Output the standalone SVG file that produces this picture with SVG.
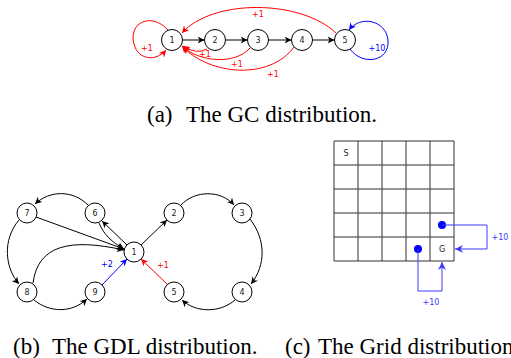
<svg xmlns="http://www.w3.org/2000/svg" width="511" height="358" viewBox="0 0 511 358">
<style>
.node circle{fill:#fff;stroke:#000;stroke-width:1}
.node text{font-family:"DejaVu Sans",sans-serif;font-size:8px;text-anchor:middle;fill:#222}
.e{fill:none;stroke:#000;stroke-width:1}
.r{stroke:#f00}
.b{stroke:#00f}
.gb{stroke:#3b3bff}
.lbl{font-family:"DejaVu Sans",sans-serif;font-size:8px;text-anchor:middle}
.cap{font-family:"Liberation Serif",serif;font-size:23px;fill:#000}
.grid line{stroke:#333;stroke-width:1}
</style>
<defs>
<marker id="ak" viewBox="0 0 10 10" refX="10" refY="5" markerWidth="7" markerHeight="7" orient="auto" markerUnits="userSpaceOnUse"><path d="M0,0 L10,5 L0,10 L3,5 z" fill="#000"/></marker>
<marker id="ar" viewBox="0 0 10 10" refX="10" refY="5" markerWidth="7" markerHeight="7" orient="auto" markerUnits="userSpaceOnUse"><path d="M0,0 L10,5 L0,10 L3,5 z" fill="#f00"/></marker>
<marker id="ab" viewBox="0 0 10 10" refX="10" refY="5" markerWidth="7" markerHeight="7" orient="auto" markerUnits="userSpaceOnUse"><path d="M0,0 L10,5 L0,10 L3,5 z" fill="#00f"/></marker>
<marker id="agb" viewBox="0 0 10 10" refX="10" refY="5" markerWidth="8" markerHeight="8" orient="auto" markerUnits="userSpaceOnUse"><path d="M0,0 L10,5 L0,10 L3,5 z" fill="#3b3bff"/></marker>
</defs>

<!-- (a) GC distribution -->
<g id="gc-connectors">
<path class="e" d="M182.5,40 H204.5" marker-end="url(#ak)"/>
<path class="e" d="M225.5,40 H247.5" marker-end="url(#ak)"/>
<path class="e" d="M268.5,40 H291.5" marker-end="url(#ak)"/>
<path class="e" d="M312.5,40 H334.5" marker-end="url(#ak)"/>
<path class="e r" d="M168,30 C152,12 128,22 134,44 C138,60 156,62 166,50" marker-end="url(#ar)"/>
<path class="e r" d="M336,33 C300,-1 212,-1 182,33" marker-end="url(#ar)"/>
<path class="e b" d="M350,49 C362,66 390,62 388,40 C386,20 360,15 349,30" marker-end="url(#ab)"/>
<path class="e r" d="M207,49 Q196,55 183,46" marker-end="url(#ar)"/>
<path class="e r" d="M250,48 C235,65 200,62 183,47" marker-end="url(#ar)"/>
<path class="e r" d="M294,47 C270,80 210,76 182,46" marker-end="url(#ar)"/>
<text class="lbl" x="147" y="51" fill="#f00">+1</text>
<text class="lbl" x="258" y="17" fill="#f00">+1</text>
<text class="lbl" x="205" y="57" fill="#f00">+1</text>
<text class="lbl" x="237" y="67" fill="#f00">+1</text>
<text class="lbl" x="273" y="77" fill="#f00">+1</text>
<text class="lbl" x="377" y="51" fill="#00f">+10</text>
</g>
<g id="gc1" class="node"><circle cx="172" cy="40" r="10.5"/><text x="172" y="43">1</text></g>
<g id="gc2" class="node"><circle cx="215" cy="40" r="10.5"/><text x="215" y="43">2</text></g>
<g id="gc3" class="node"><circle cx="258" cy="40" r="10.5"/><text x="258" y="43">3</text></g>
<g id="gc4" class="node"><circle cx="302" cy="40" r="10.5"/><text x="302" y="43">4</text></g>
<g id="gc5" class="node"><circle cx="345" cy="40" r="10.5"/><text x="345" y="43">5</text></g>

<!-- (b) GDL distribution -->
<g id="gdl-connectors">
<path class="e" d="M141,245 L167,220" marker-end="url(#ak)"/>
<path class="e" d="M181,205 C195,190 221,190 234,205" marker-end="url(#ak)"/>
<path class="e" d="M250,219 C266,240 266,265 251,284" marker-end="url(#ak)"/>
<path class="e" d="M235,300 C220,313 196,313 182,300" marker-end="url(#ak)"/>
<path class="e r" d="M167,284 L141,259" marker-end="url(#ar)"/>
<path class="e b" d="M102,285 L127,259" marker-end="url(#ab)"/>
<path class="e" d="M127,245 L102,221" marker-end="url(#ak)"/>
<path class="e" d="M99,223 C104,235 112,242 124,249" marker-end="url(#ak)"/>
<path class="e" d="M88,205 C73,190 50,190 35,204" marker-end="url(#ak)"/>
<path class="e" d="M36,217 L124,249" marker-end="url(#ak)"/>
<path class="e" d="M19,220 C2,240 5,268 19,284" marker-end="url(#ak)"/>
<path class="e" d="M33,283 C38,245 70,238 124,250" marker-end="url(#ak)"/>
<path class="e" d="M34,300 C50,313 72,313 87,299" marker-end="url(#ak)"/>
<text class="lbl" x="107" y="267" fill="#00f">+2</text>
<text class="lbl" x="163" y="268" fill="#f00">+1</text>
</g>
<g id="gdl1" class="node"><circle cx="134" cy="252" r="10"/><text x="134" y="255">1</text></g>
<g id="gdl2" class="node"><circle cx="174" cy="213" r="10"/><text x="174" y="216">2</text></g>
<g id="gdl3" class="node"><circle cx="242" cy="213" r="10"/><text x="242" y="216">3</text></g>
<g id="gdl4" class="node"><circle cx="242" cy="292" r="10"/><text x="242" y="295">4</text></g>
<g id="gdl5" class="node"><circle cx="174" cy="292" r="10"/><text x="174" y="295">5</text></g>
<g id="gdl6" class="node"><circle cx="95" cy="213" r="10"/><text x="95" y="216">6</text></g>
<g id="gdl7" class="node"><circle cx="27" cy="213" r="10"/><text x="27" y="216">7</text></g>
<g id="gdl8" class="node"><circle cx="27" cy="292" r="10"/><text x="27" y="295">8</text></g>
<g id="gdl9" class="node"><circle cx="95" cy="292" r="10"/><text x="95" y="295">9</text></g>

<!-- (c) Grid distribution -->
<g id="grid" class="grid">
<line x1="334" y1="141" x2="454" y2="141"/>
<line x1="334" y1="165" x2="454" y2="165"/>
<line x1="334" y1="189" x2="454" y2="189"/>
<line x1="334" y1="213" x2="454" y2="213"/>
<line x1="334" y1="237" x2="454" y2="237"/>
<line x1="334" y1="261" x2="454" y2="261"/>
<line x1="334" y1="141" x2="334" y2="261"/>
<line x1="358" y1="141" x2="358" y2="261"/>
<line x1="382" y1="141" x2="382" y2="261"/>
<line x1="406" y1="141" x2="406" y2="261"/>
<line x1="430" y1="141" x2="430" y2="261"/>
<line x1="454" y1="141" x2="454" y2="261"/>
<text class="lbl" x="346" y="156" fill="#222">S</text>
<text class="lbl" x="442" y="252" fill="#222">G</text>
</g>
<g id="grid-connectors">
<circle cx="442" cy="225" r="4" fill="#00f"/>
<circle cx="418" cy="249" r="4" fill="#00f"/>
<path class="e gb" d="M442,225 H487 V249 H455" marker-end="url(#agb)"/>
<path class="e gb" d="M418,249 V291 H442 V262" marker-end="url(#agb)"/>
<text class="lbl" x="500" y="240" fill="#3b3bff">+10</text>
<text class="lbl" x="431" y="305" fill="#3b3bff">+10</text>
</g>

<!-- captions -->
<text class="cap" x="147" y="122">(a)</text>
<text class="cap" x="186" y="122">The GC distribution.</text>
<text class="cap" x="13" y="354">(b)</text>
<text class="cap" x="52" y="354">The GDL distribution.</text>
<text class="cap" x="285" y="354">(c)</text>
<text class="cap" x="318" y="354">The Grid distribution.</text>
</svg>
